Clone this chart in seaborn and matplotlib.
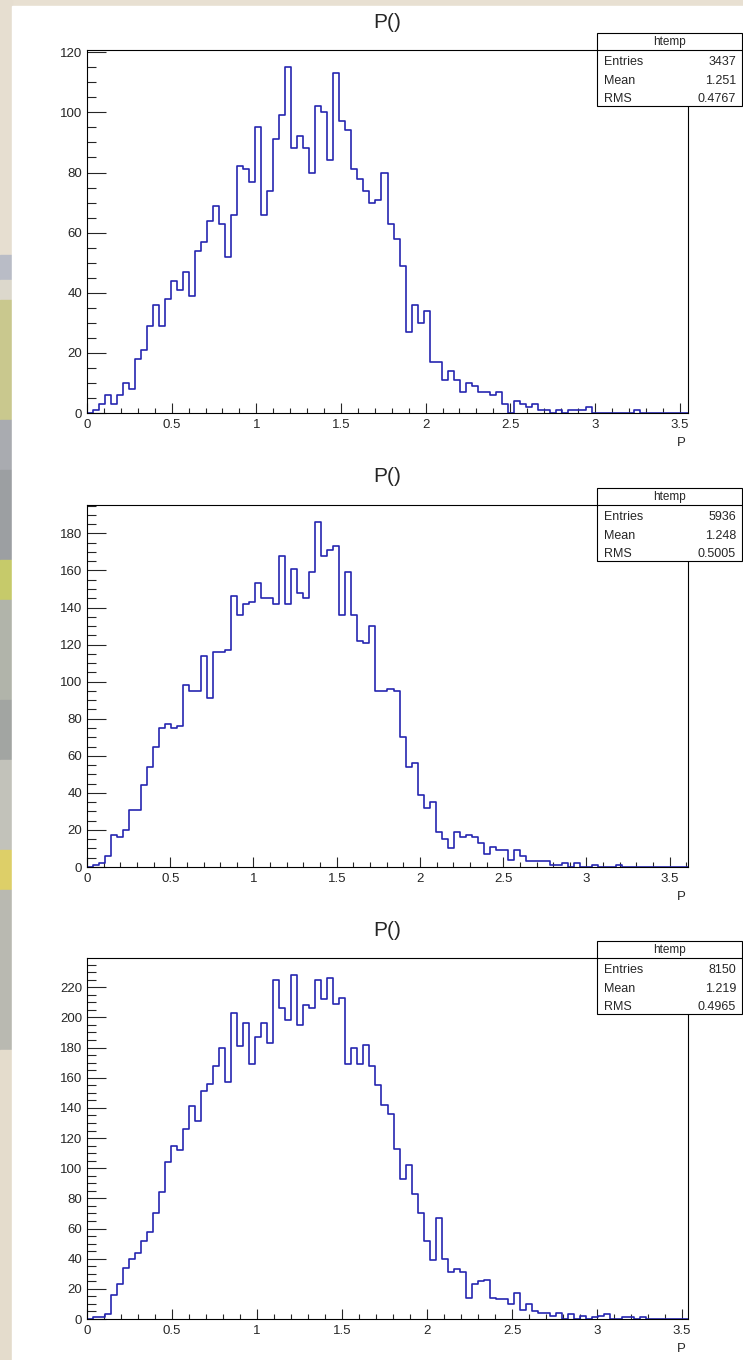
import numpy as np
import pandas as pd
import matplotlib
matplotlib.use("Agg")
import matplotlib.pyplot as plt
from matplotlib.patches import Rectangle
from matplotlib.ticker import MultipleLocator, FormatStrFormatter
import seaborn as sns

# ------- HISTOGRAM CONTENTS (100 bins per panel) -------------------------------
counts_1 = [0, 1, 3, 6, 3, 6, 10, 8, 18, 21,
            29, 36, 29, 38, 44, 41, 47, 39, 54, 57,
            64, 69, 63, 52, 66, 82, 81, 77, 95, 66,
            74, 91, 99, 115, 88, 92, 88, 80, 102, 100,
            84, 113, 97, 94, 81, 78, 74, 70, 71, 80,
            63, 58, 49, 27, 36, 30, 34, 17, 17, 11,
            14, 11, 7, 10, 9, 7, 7, 6, 7, 3,
            0, 4, 3, 2, 3, 1, 1, 0, 1, 0,
            1, 1, 1, 2, 0, 0, 0, 0, 0, 0,
            0, 1, 0, 0, 0, 0, 0, 0, 0, 0]

counts_2 = [0, 1, 2, 6, 17, 16, 20, 31, 31, 44,
            54, 65, 75, 77, 75, 76, 98, 95, 95, 114,
            91, 116, 116, 117, 146, 136, 142, 143, 153, 145,
            145, 142, 168, 142, 161, 148, 145, 159, 186, 168,
            171, 173, 136, 159, 136, 122, 121, 130, 95, 95,
            96, 95, 70, 54, 56, 39, 32, 35, 19, 15,
            10, 19, 16, 17, 16, 13, 7, 11, 9, 9,
            4, 9, 6, 3, 3, 3, 3, 1, 1, 2,
            0, 2, 0, 0, 1, 0, 0, 0, 1, 0,
            0, 0, 0, 0, 0, 0, 0, 0, 0, 0]

counts_3 = [0, 1, 1, 3, 16, 23, 34, 40, 44, 52,
            58, 70, 84, 104, 115, 112, 126, 141, 131, 151,
            156, 168, 180, 157, 203, 181, 196, 169, 187, 196,
            183, 225, 206, 198, 228, 195, 208, 206, 225, 212,
            226, 209, 213, 169, 180, 169, 182, 168, 155, 142,
            136, 113, 93, 102, 83, 70, 52, 39, 67, 40,
            31, 33, 31, 14, 23, 25, 26, 14, 13, 13,
            10, 17, 6, 10, 5, 4, 4, 2, 4, 0,
            3, 0, 2, 0, 1, 2, 3, 0, 0, 1,
            1, 0, 1, 0, 0, 0, 0, 0, 0, 0]

x_max = [3.55, 3.61, 3.535]
entries = ["3437", "5936", "8150"]
means = ["1.251", "1.248", "1.219"]
rms = ["0.4767", "0.5005", "0.4965"]
hist_name = "htemp"
title = "P()"
x_label = "P"

# ------- FIGURE LAYOUT (pixels) ---------
W, H = 743, 1360
AX_LEFT, AX_RIGHT = 87, 688
AX_TOPS = [50, 505, 958]
AX_BOTTOMS = [413, 867, 1319]
BOX_LEFT, BOX_RIGHT = 597, 742
HIST_COLOR = "#2626b0"

def fx(x):
    return x / W

def fy(y):
    return 1 - y / H

sns.set_style("white")
plt.rcParams["font.family"] = ["Liberation Sans", "DejaVu Sans"]

fig = plt.figure(figsize=(W / 100, H / 100), dpi=100)
fig.patch.set_facecolor("#e8e0d2")

# blurry desktop behind the canvas: only a thin strip shows on the left
bg_bands = [(0, 255, "#e6ded0"), (255, 280, "#b9bcc6"), (280, 300, "#dcd8cc"),
            (300, 420, "#c9c88e"), (420, 470, "#a9abb0"), (470, 560, "#9c9fa2"),
            (560, 600, "#c6ca6a"), (600, 700, "#b1b4aa"), (700, 760, "#a2a5a2"),
            (760, 850, "#c2c2ba"), (850, 890, "#ddcf68"), (890, 1050, "#b9b9b1"),
            (1050, 1360, "#e4dccc")]
for y0, y1, c in bg_bands:
    fig.add_artist(Rectangle((0, fy(y1)), fx(12), (y1 - y0) / H,
                             transform=fig.transFigure, color=c, zorder=-2))
fig.add_artist(Rectangle((fx(12), 0), 1 - fx(12), fy(6),
                         transform=fig.transFigure, color="white", zorder=-1))

all_counts = [counts_1, counts_2, counts_3]

for k in range(3):
    counts = np.array(all_counts[k], dtype=float)
    edges = np.linspace(0, x_max[k], len(counts) + 1)
    df = pd.DataFrame({"P": 0.5 * (edges[:-1] + edges[1:]), "n": counts})
    top, bottom = AX_TOPS[k], AX_BOTTOMS[k]

    ax = fig.add_axes([fx(AX_LEFT), fy(bottom), (AX_RIGHT - AX_LEFT) / W, (bottom - top) / H])
    sns.histplot(data=df, x="P", weights="n", bins=list(edges), element="step", fill=False,
                 color=HIST_COLOR, linewidth=1.2, ax=ax)
    ax.set_xlim(0, x_max[k])
    ax.set_ylim(0, counts.max() * 1.05)
    ax.set_xlabel("")
    ax.set_ylabel("")

    # ROOT style frame and ticks
    for s in ax.spines.values():
        s.set_visible(True)
        s.set_color("black")
        s.set_linewidth(0.8)
    ax.xaxis.set_major_locator(MultipleLocator(0.5))
    ax.xaxis.set_minor_locator(MultipleLocator(0.1))
    ax.xaxis.set_major_formatter(FormatStrFormatter("%g"))
    ax.yaxis.set_major_locator(MultipleLocator(20))
    ax.yaxis.set_minor_locator(MultipleLocator(5))
    ax.tick_params(axis="x", which="major", direction="in", length=7.2, width=0.8,
                   labelsize=9.5, pad=4.3, bottom=True, top=False)
    ax.tick_params(axis="x", which="minor", direction="in", length=3.6, width=0.8,
                   bottom=True, top=False)
    ax.tick_params(axis="y", which="major", direction="in", length=13.5, width=0.8,
                   labelsize=9.5, pad=3.6, left=True, right=False)
    ax.tick_params(axis="y", which="minor", direction="in", length=6.7, width=0.8,
                   left=True, right=False)

    # title and axis label
    fig.text(fx((AX_LEFT + AX_RIGHT) / 2), fy(top - 28), title, ha="center", va="center",
             fontsize=15)
    fig.text(fx(681), fy(bottom + 30), x_label, ha="center", va="center", fontsize=9.5)

    # ------- STATS BOX ---------
    box_top, box_bottom = top - 17, top + 56
    fig.add_artist(Rectangle((fx(BOX_LEFT), fy(box_bottom)), fx(BOX_RIGHT) - fx(BOX_LEFT),
                             (box_bottom - box_top) / H, transform=fig.transFigure,
                             facecolor="white", edgecolor="black", linewidth=0.8, zorder=2))
    fig.add_artist(plt.Line2D([fx(BOX_LEFT), fx(BOX_RIGHT)], [fy(top), fy(top)],
                              transform=fig.transFigure, color="black", linewidth=0.8, zorder=3))
    fig.text(fx((BOX_LEFT + BOX_RIGHT) / 2), fy(top - 8), hist_name, ha="center", va="center",
             fontsize=8.5, zorder=4)
    rows = [("Entries", entries[k]), ("Mean", means[k]), ("RMS", rms[k])]
    for r, (name, val) in enumerate(rows):
        yy = top + 12 + r * 18.5
        fig.text(fx(BOX_LEFT + 7), fy(yy), name, ha="left", va="center", fontsize=9, zorder=4)
        fig.text(fx(BOX_RIGHT - 6), fy(yy), val, ha="right", va="center", fontsize=9, zorder=4)

fig.savefig("out.png", dpi=100)
